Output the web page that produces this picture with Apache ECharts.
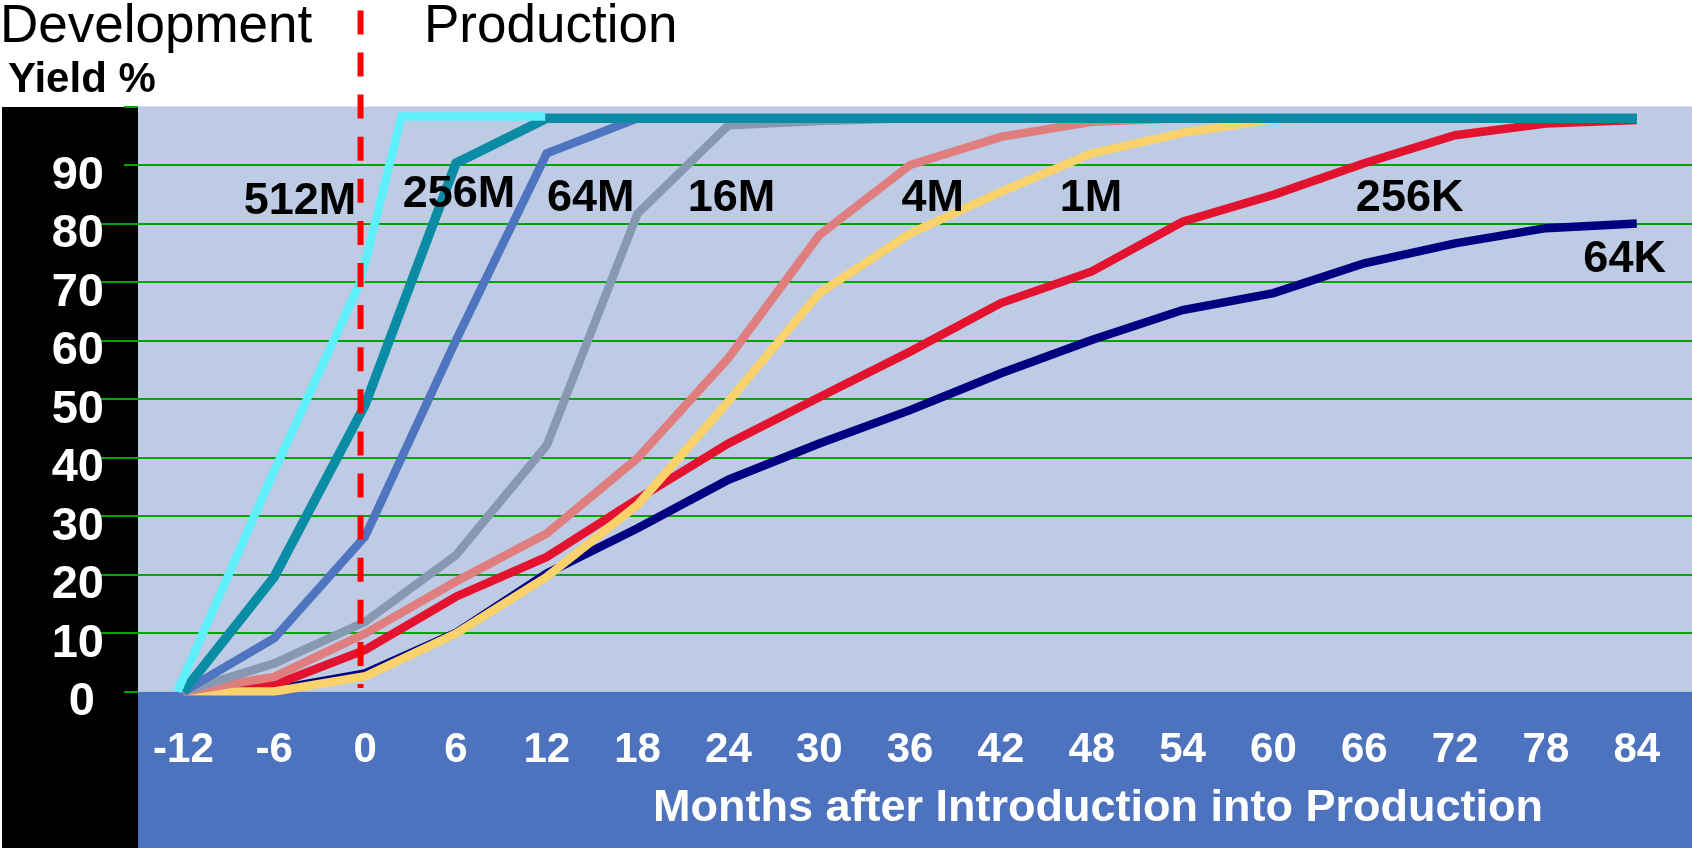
<!DOCTYPE html>
<html>
<head>
<meta charset="utf-8">
<title>Yield % by memory generation</title>
<script src="https://cdn.jsdelivr.net/npm/echarts@6/dist/echarts.min.js"></script>
<style>
  html, body { margin: 0; padding: 0; background: #ffffff; }
  #chart { width: 1692px; height: 848px; }
</style>
</head>
<body>
<div id="chart"></div>
<script>
// Months relative to introduction into production (x values of the curves)
const months = [-12, -6, 0, 6, 12, 18, 24, 30, 36, 42, 48, 54, 60, 66, 72, 78, 84];
const monthTicks = [-12, -6, 0, 6, 12, 18, 24, 30, 36, 42, 48, 54, 60, 66, 72, 78, 84];
const yieldTicks = [0, 10, 20, 30, 40, 50, 60, 70, 80, 90];

// Yield % per memory density, one value per entry of `months`
const yield64K  = [0, 0.3, 3.1, 10, 20.2, 27.9, 36.2, 42.4, 48.1, 54.4, 60.1, 65.2, 68.1, 73.2, 76.6, 79.2, 80.0];
const yield256K = [0, 1.1, 7.1, 16.2, 23.0, 32.9, 42.4, 50.3, 58.1, 66.4, 71.8, 80.3, 84.9, 90.3, 95.1, 97.1, 97.7];
const yield1M   = [0, 0, 2.6, 9.9, 19.6, 31.9, 49.6, 68.1, 78.3, 85.4, 92.0, 95.5, 97.8, 98, 98, 98, 98];
const yield4M   = [0, 2.5, 9.9, 18.8, 27.0, 39.9, 57.0, 78.0, 90.0, 94.8, 97.4, 98, 98, 98, 98, 98, 98];
const yield16M  = [0, 4.8, 11.9, 23.3, 42.1, 81.7, 96.8, 97.5, 98, 98, 98, 98, 98, 98, 98, 98, 98];
const yield64M  = [0, 9.1, 26.5, 60, 92, 98, 98, 98, 98, 98, 98, 98, 98, 98, 98, 98, 98];
const yield256M = [0, 19.6, 49, 90.3, 98, 98, 98, 98, 98, 98, 98, 98, 98, 98, 98, 98, 98];

// 512M is plotted on its own month positions
const months512M = [-12.4, -6.3, -0.3, 2.4, 11.9];
const yield512M  = [0, 36, 70.1, 98.3, 98.3];

// Curve names and where each name sits, in (month, yield %) units
const seriesNames = ['64K', '256K', '1M', '4M', '16M', '64M', '256M', '512M'];
const nameMonths  = [83.2, 69.0, 47.95, 37.5, 24.2, 14.9, 6.2, -4.3];
const nameYields  = [73.9, 84.2, 84.3, 84.3, 84.3, 84.2, 84.9, 83.7];

// Boundary between development and production (month)
const productionStart = -0.3;

const FONT = '"Liberation Sans", Arial, Helvetica, sans-serif';
const GREEN = '#00A400';

const palette = {
  '64K':  '#000080',
  '256K': '#E3132F',
  '1M':   '#FAD26C',
  '4M':   '#E07D7E',
  '16M':  '#8699B0',
  '64M':  '#4F74C0',
  '256M': '#0B8CA5',
  '512M': '#5EEFFB'
};

function pairs(xs, ys) {
  return xs.map((x, i) => [x, ys[i]]);
}

const curves = [
  { name: '64K',  data: pairs(months, yield64K),  width: 8.5 },
  { name: '256K', data: pairs(months, yield256K), width: 8.5 },
  { name: '1M',   data: pairs(months, yield1M),   width: 8.5 },
  { name: '4M',   data: pairs(months, yield4M),   width: 8.5 },
  { name: '16M',  data: pairs(months, yield16M),  width: 8.5 },
  { name: '64M',  data: pairs(months, yield64M),  width: 8.5 },
  { name: '256M', data: pairs(months, yield256M), width: 9.5 },
  { name: '512M', data: pairs(months512M, yield512M), width: 8.5 }
];

const chart = echarts.init(document.getElementById('chart'), null, { renderer: 'canvas' });

const lineSeries = curves.map((c, i) => ({
  type: 'line',
  name: c.name,
  data: c.data,
  showSymbol: false,
  symbol: 'none',
  silent: true,
  z: 3 + i,
  lineStyle: { color: palette[c.name], width: c.width, cap: 'butt', join: 'miter' },
  emphasis: { disabled: true }
}));

const nameSeries = {
  type: 'scatter',
  silent: true,
  symbolSize: 0,
  itemStyle: { color: '#000000', opacity: 1 },
  z: 20,
  data: seriesNames.map((n, i) => ({ name: n, value: [nameMonths[i], nameYields[i]] })),
  label: {
    show: true,
    position: 'inside',
    formatter: '{b}',
    color: '#000000',
    opacity: 1,
    textBorderWidth: 0,
    fontFamily: FONT,
    fontWeight: 'bold',
    fontSize: 45
  },
  emphasis: { disabled: true }
};

function staticGraphics() {
  return [
    { id: 'leftBand', type: 'rect', z: -1, shape: { x: 2, y: 107, width: 136, height: 741 },
      style: { fill: '#000000' } },
    { id: 'bottomBand', type: 'rect', z: -1, shape: { x: 138, y: 691.5, width: 1554, height: 157 },
      style: { fill: '#4E73BE' } },
    { id: 'devText', type: 'text', x: 0, y: 27,
      style: { text: 'Development', font: '53px ' + FONT, fill: '#000', verticalAlign: 'middle' } },
    { id: 'prodText', type: 'text', x: 424, y: 27,
      style: { text: 'Production', font: '53px ' + FONT, fill: '#000', verticalAlign: 'middle' } },
    { id: 'yieldText', type: 'text', x: 8, y: 80,
      style: { text: 'Yield %', font: 'bold 42px ' + FONT, fill: '#000', verticalAlign: 'middle' } },
    { id: 'xTitle', type: 'text', x: 1098, y: 809, z: 5,
      style: { text: 'Months after Introduction into Production', font: 'bold 45px ' + FONT,
               fill: '#ffffff', align: 'center', verticalAlign: 'middle' } }
  ];
}

const tickAxisBase = {
  type: 'value',
  min: 0,
  max: 100,
  position: 'left',
  axisLine: { show: false },
  axisLabel: { show: false },
  splitLine: { show: false }
};

chart.setOption({
  animation: false,
  grid: {
    left: 138, right: 0, top: 106.5, bottom: 156.5,
    show: true, backgroundColor: '#BDCBE4', borderWidth: 0
  },
  xAxis: {
    type: 'value',
    min: -15,
    max: 87.65,
    axisLine: { show: false },
    axisTick: { show: false },
    splitLine: { show: false },
    axisLabel: {
      customValues: monthTicks,
      color: '#ffffff',
      fontFamily: FONT,
      fontWeight: 'bold',
      fontSize: 42,
      margin: 38
    }
  },
  yAxis: [
    {
      // labels and horizontal grid lines
      type: 'value',
      min: 0,
      max: 100,
      interval: 10,
      axisLine: { show: false },
      axisTick: { show: false },
      splitLine: {
        show: true,
        showMinLine: false,
        showMaxLine: false,
        lineStyle: { color: GREEN, width: 2 }
      },
      axisLabel: {
        customValues: yieldTicks,
        color: '#ffffff',
        fontFamily: FONT,
        fontWeight: 'bold',
        fontSize: 47,
        margin: 34,
        padding: [22, 0, 0, 0],
        formatter: v => (v === 0 ? '{zero|0}' : String(v)),
        rich: {
          zero: {
            color: '#ffffff', fontFamily: FONT, fontWeight: 'bold', fontSize: 47,
            padding: [0, 9, 0, 0]
          }
        }
      }
    },
    Object.assign({}, tickAxisBase, {
      // long ticks reaching the labels
      axisTick: {
        show: true,
        customValues: [10, 20, 30, 40, 50, 60, 70, 80],
        length: 41,
        lineStyle: { color: GREEN, width: 2 }
      }
    }),
    Object.assign({}, tickAxisBase, {
      // short ticks at the ends and at 90
      axisTick: {
        show: true,
        customValues: [0, 90, 100],
        length: 14,
        lineStyle: { color: GREEN, width: 2 }
      }
    })
  ],
  graphic: staticGraphics(),
  series: lineSeries.concat([nameSeries])
});

// Dashed development / production boundary, placed through the x axis scale
const boundaryX = chart.convertToPixel({ xAxisIndex: 0 }, productionStart);
const boundaryBottom = chart.convertToPixel({ yAxisIndex: 0 }, 0.6);
chart.setOption({
  graphic: staticGraphics().concat([{
    id: 'boundary', type: 'line', z: 30,
    shape: { x1: boundaryX, y1: 10.4, x2: boundaryX, y2: boundaryBottom },
    style: { stroke: '#FF0000', lineWidth: 6, lineDash: [24, 18.1] }
  }])
});
</script>
</body>
</html>
